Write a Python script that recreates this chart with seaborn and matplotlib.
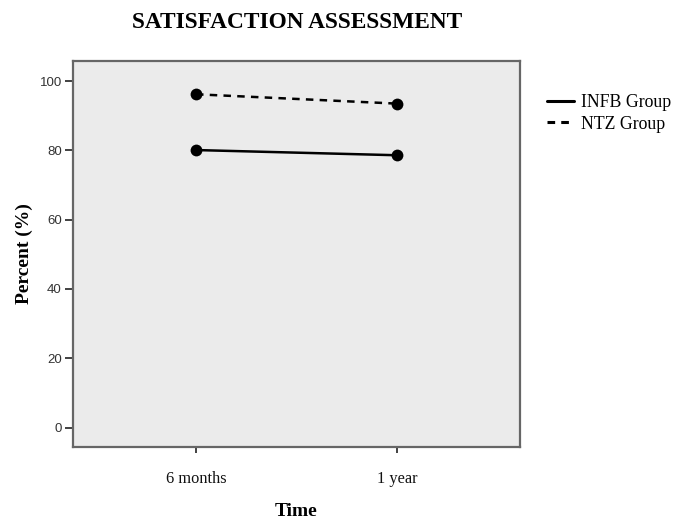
import pandas as pd
import matplotlib.pyplot as plt
import seaborn as sns
from matplotlib.lines import Line2D

# --- data ---
TEMPS = ["6 months", "1 year"]
INFB = [80.1, 78.6]
NTZ = [96.2, 93.5]
GROUPES = ["INFB Group", "NTZ Group"]

df = pd.DataFrame({
    "Time": TEMPS * 2,
    "Percent": INFB + NTZ,
    "Group": [GROUPES[0]] * len(TEMPS) + [GROUPES[1]] * len(TEMPS),
})

sns.set_theme(style="white")
plt.rcParams['font.family'] = ['Liberation Serif', 'DejaVu Serif']
plt.rcParams['text.color'] = 'black'
plt.rcParams['axes.labelcolor'] = 'black'

fig = plt.figure(figsize=(6.85, 5.27), dpi=100)
ax = fig.add_axes([73 / 685, 80 / 527, 447 / 685, 386 / 527])
ax.set_facecolor("#ebebeb")

sns.lineplot(data=df, x="Time", y="Percent", style="Group",
             style_order=GROUPES, color="black",
             dashes={GROUPES[0]: "", GROUPES[1]: (3, 2.5)},
             markers={GROUPES[0]: "o", GROUPES[1]: "o"},
             markersize=8.5, markeredgewidth=0, linewidth=1.8,
             legend=False, ax=ax, sort=False)

ax.set_xlim(-0.612, 1.612)
ax.set_ylim(-5.6, 105.8)
ax.set_yticks([0, 20, 40, 60, 80, 100])

for sp in ax.spines.values():
    sp.set_color("#666666")
    sp.set_linewidth(1.6)

ax.tick_params(axis="y", direction="out", length=6, width=1.3, color="#333333",
               labelsize=9.5, labelcolor="#333333", left=True, pad=2)
ax.tick_params(axis="x", direction="out", length=4, width=1.3, color="#333333",
               labelsize=11.8, labelcolor="#111111", bottom=True, pad=13)
for t in ax.get_yticklabels():
    t.set_family(['Liberation Sans', 'DejaVu Sans'])

ax.set_xlabel("Time", fontsize=14, fontweight="bold", labelpad=12)
ax.set_ylabel("Percent (%)", fontsize=14, fontweight="bold")
ax.yaxis.set_label_coords(-0.09, 0.5)
fig.text(297 / 685, 1 - 22 / 527, "SATISFACTION ASSESSMENT", ha="center", va="center",
         fontsize=16.8, fontweight="bold")

handles = [Line2D([], [], color="black", linewidth=2.2),
           Line2D([], [], color="black", linewidth=2.2, dashes=(2.5, 2))]
fig.legend(handles, GROUPES, loc="upper left", bbox_to_anchor=(540 / 685, 1 - 87 / 527),
           frameon=False, fontsize=12.8, handlelength=1.5, handletextpad=0.4,
           labelspacing=0.25, borderaxespad=0)

plt.savefig("out.png", dpi=100)
